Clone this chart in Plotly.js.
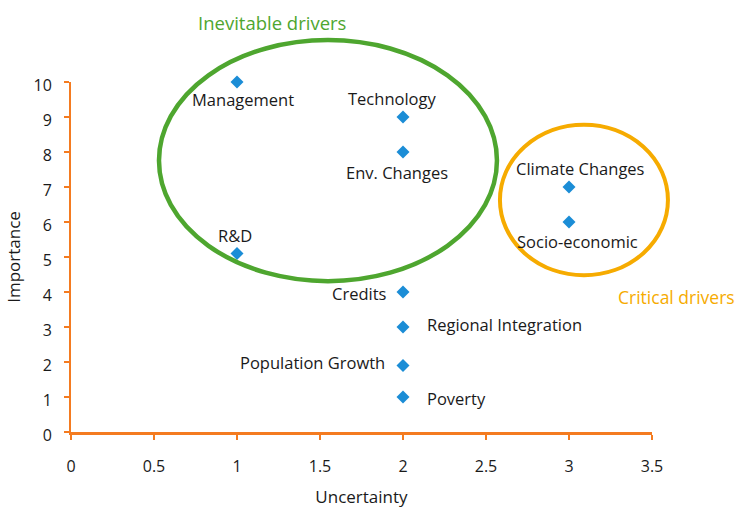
<!DOCTYPE html>
<html>
<head>
<meta charset="utf-8">
<script src="https://cdn.plot.ly/plotly-3.0.1.min.js"></script>
<style>html,body{margin:0;padding:0;background:#fff;}#chart{width:740px;height:511px;}</style>
</head>
<body>
<div id="chart"></div>
<script>
// ---- data ----
const drivers = ['Management','Technology','Env. Changes','R&D','Climate Changes','Socio-economic','Credits','Regional Integration','Population Growth','Poverty'];
const uncertainty = [1, 2, 2, 1, 3, 3, 2, 2, 2, 2];
const importance = [10, 9, 8, 5.1, 7, 6, 4, 3, 1.9, 1];
const xTicks = [0, 0.5, 1, 1.5, 2, 2.5, 3, 3.5];
const yTicks = [0, 1, 2, 3, 4, 5, 6, 7, 8, 9, 10];
const groupNames = ['Inevitable drivers', 'Critical drivers'];

// ---- styling / placement ----
const FONT = 'Open Sans, Noto Sans, sans-serif';
const TXT = '#1a1a1a';
const AXIS = '#f47b20';
const GREEN = '#4ea62f';
const GOLD = '#f6ab00';
const xRange = [0, 3.5], yRange = [0, 10];
// label placement: [xanchor, xshift, yshift]
const labelPlace = [
  ['center', 6, -17], ['center', -11, 19], ['center', -6, -20], ['center', -2, 18],
  ['center', 11, 19], ['center', 8, -19], ['right', -14, -1], ['left', 22, 3],
  ['right', -16, 3], ['left', 22, -1]
];

// ellipses in data units
const ellipses = [
  {x0: 0.53, x1: 2.566, y0: 4.31, y1: 11.2, color: GREEN, width: 4.5},
  {x0: 2.584, x1: 3.596, y0: 4.48, y1: 8.78, color: GOLD, width: 4}
];
const px = v => (v - xRange[0]) / (xRange[1] - xRange[0]);
const py = v => (v - yRange[0]) / (yRange[1] - yRange[0]);

const trace = {
  x: uncertainty, y: importance, type: 'scatter', mode: 'markers',
  marker: {symbol: 'diamond', size: 10, color: '#1b8dd6'},
  cliponaxis: false, hoverinfo: 'skip'
};

const annotations = drivers.map((d, i) => ({
  x: uncertainty[i], y: importance[i], xref: 'x', yref: 'y', text: d, showarrow: false,
  xanchor: labelPlace[i][0], yanchor: 'middle', xshift: labelPlace[i][1], yshift: labelPlace[i][2],
  font: {family: FONT, size: 16.5, color: TXT}
}));
annotations.push({x: px(1.21), y: py(11.7), xref: 'paper', yref: 'paper', text: groupNames[0], showarrow: false,
  xanchor: 'center', yanchor: 'middle', font: {family: FONT, size: 18.5, color: GREEN}});
annotations.push({x: px(3.65), y: py(3.85), xref: 'paper', yref: 'paper', text: groupNames[1], showarrow: false,
  xanchor: 'center', yanchor: 'middle', font: {family: FONT, size: 17.5, color: GOLD}});

const shapes = ellipses.map(e => ({
  type: 'circle', xref: 'paper', yref: 'paper', x0: px(e.x0), x1: px(e.x1), y0: py(e.y0), y1: py(e.y1),
  line: {color: e.color, width: e.width}, fillcolor: 'rgba(0,0,0,0)', layer: 'above'
}));

const layout = {
  width: 740, height: 511,
  margin: {l: 71, r: 88, t: 82, b: 79},
  paper_bgcolor: '#fff', plot_bgcolor: '#fff',
  showlegend: false,
  font: {family: FONT, size: 16, color: TXT},
  xaxis: {
    range: xRange, tickvals: xTicks, ticktext: xTicks.map(String),
    showgrid: false, zeroline: false, showline: true, linecolor: AXIS, linewidth: 2.5,
    ticks: 'outside', ticklen: 5, tickcolor: AXIS, tickwidth: 1.5, ticklabelstandoff: 13,
    tickfont: {family: FONT, size: 16, color: TXT},
    title: {text: 'Uncertainty', font: {family: FONT, size: 17, color: TXT}, standoff: 16},
    fixedrange: true
  },
  yaxis: {
    range: yRange, tickvals: yTicks, ticktext: yTicks.map(String),
    showgrid: false, zeroline: false, showline: true, linecolor: AXIS, linewidth: 2,
    ticks: 'outside', ticklen: 5, tickcolor: AXIS, tickwidth: 1.5, ticklabelstandoff: 9,
    ticklabelshift: 3,
    tickfont: {family: FONT, size: 16, color: TXT},
    title: {text: 'Importance', font: {family: FONT, size: 17, color: TXT}, standoff: 9},
    fixedrange: true
  },
  annotations: annotations,
  shapes: shapes
};

Plotly.newPlot('chart', [trace], layout, {staticPlot: true, displayModeBar: false});
</script>
</body>
</html>
